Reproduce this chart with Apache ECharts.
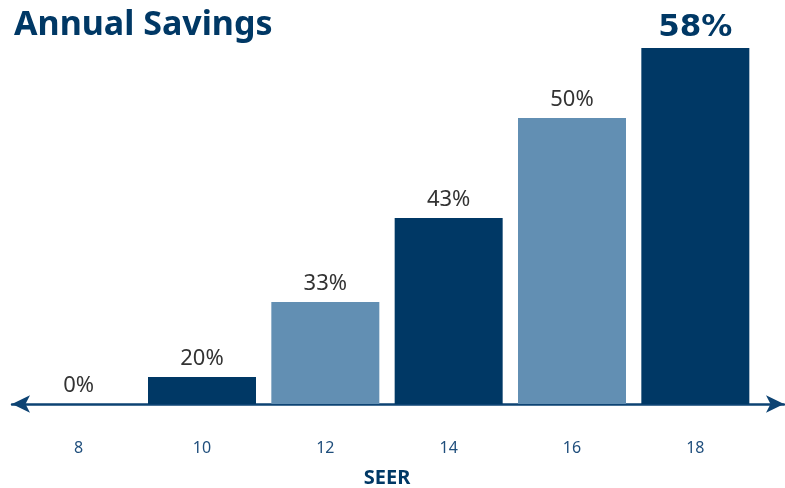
<!DOCTYPE html>
<html>
<head>
<meta charset="utf-8">
<script src="https://cdn.jsdelivr.net/npm/echarts@6/dist/echarts.min.js"></script>
<style>
  html, body { margin: 0; padding: 0; background: #fff; }
  #chart { width: 785px; height: 488px; }
</style>
</head>
<body>
<div id="chart"></div>
<script>
// SEER ratings and the savings shown above each bar
const seer = ['8', '10', '12', '14', '16', '18'];
const savings = [0, 20, 33, 43, 50, 58];
// bar heights as drawn in the picture (not to scale with the labels), in the same units as the 58% bar
const barLevel = [0, 4.4, 16.6, 30.3, 46.6, 58];
const shade = ['dark', 'dark', 'light', 'dark', 'light', 'dark'];

const DARK = '#003865';
const LIGHT = '#628fb3';
const FONT = '"Noto Sans", "Open Sans", sans-serif';

const chart = echarts.init(document.getElementById('chart'));

const data = barLevel.map((v, i) => {
  const last = i === barLevel.length - 1;
  return {
    value: v,
    itemStyle: { color: shade[i] === 'dark' ? DARK : LIGHT },
    label: last
      ? { fontFamily: '"DejaVu Sans", sans-serif', fontSize: 31, fontWeight: 'bold', color: DARK, distance: 5 }
      : {}
  };
});

const option = {
  animation: false,
  title: {
    text: 'Annual Savings',
    left: 9,
    top: 3,
    textStyle: { fontFamily: FONT, fontSize: 34, fontWeight: 'bold', color: DARK }
  },
  grid: [
    { left: 17, right: 28, top: 48, bottom: 84, outerBoundsMode: 'none' },
    { left: 12, right: 1, top: 48, bottom: 84, outerBoundsMode: 'none' }
  ],
  xAxis: [
    {
      type: 'category',
      gridIndex: 0,
      data: seer,
      axisLine: { show: false },
      axisTick: { show: false },
      axisLabel: { fontFamily: FONT, fontSize: 16, color: '#1f4e7c', margin: 36 },
      name: 'SEER',
      nameLocation: 'middle',
      nameGap: 64,
      nameTextStyle: { fontFamily: FONT, fontSize: 20, fontWeight: 'bold', color: DARK }
    },
    {
      type: 'value',
      gridIndex: 1,
      min: 0,
      max: 1,
      axisLine: {
        show: true,
        symbol: ['arrow', 'arrow'],
        symbolSize: [13, 18],
        lineStyle: { color: '#0d4373', width: 2.5 }
      },
      axisTick: { show: false },
      axisLabel: { show: false },
      splitLine: { show: false }
    }
  ],
  yAxis: [
    { type: 'value', gridIndex: 0, min: 0, max: 58, show: false },
    { type: 'value', gridIndex: 1, min: 0, max: 1, show: false }
  ],
  series: [
    {
      type: 'bar',
      xAxisIndex: 0,
      yAxisIndex: 0,
      data: data,
      barWidth: 108,
      z: 1,
      label: {
        show: true,
        position: 'top',
        distance: 7,
        fontFamily: FONT,
        fontSize: 22,
        color: '#333333',
        formatter: p => savings[p.dataIndex] + '%'
      }
    }
  ]
};

chart.setOption(option);
</script>
</body>
</html>
